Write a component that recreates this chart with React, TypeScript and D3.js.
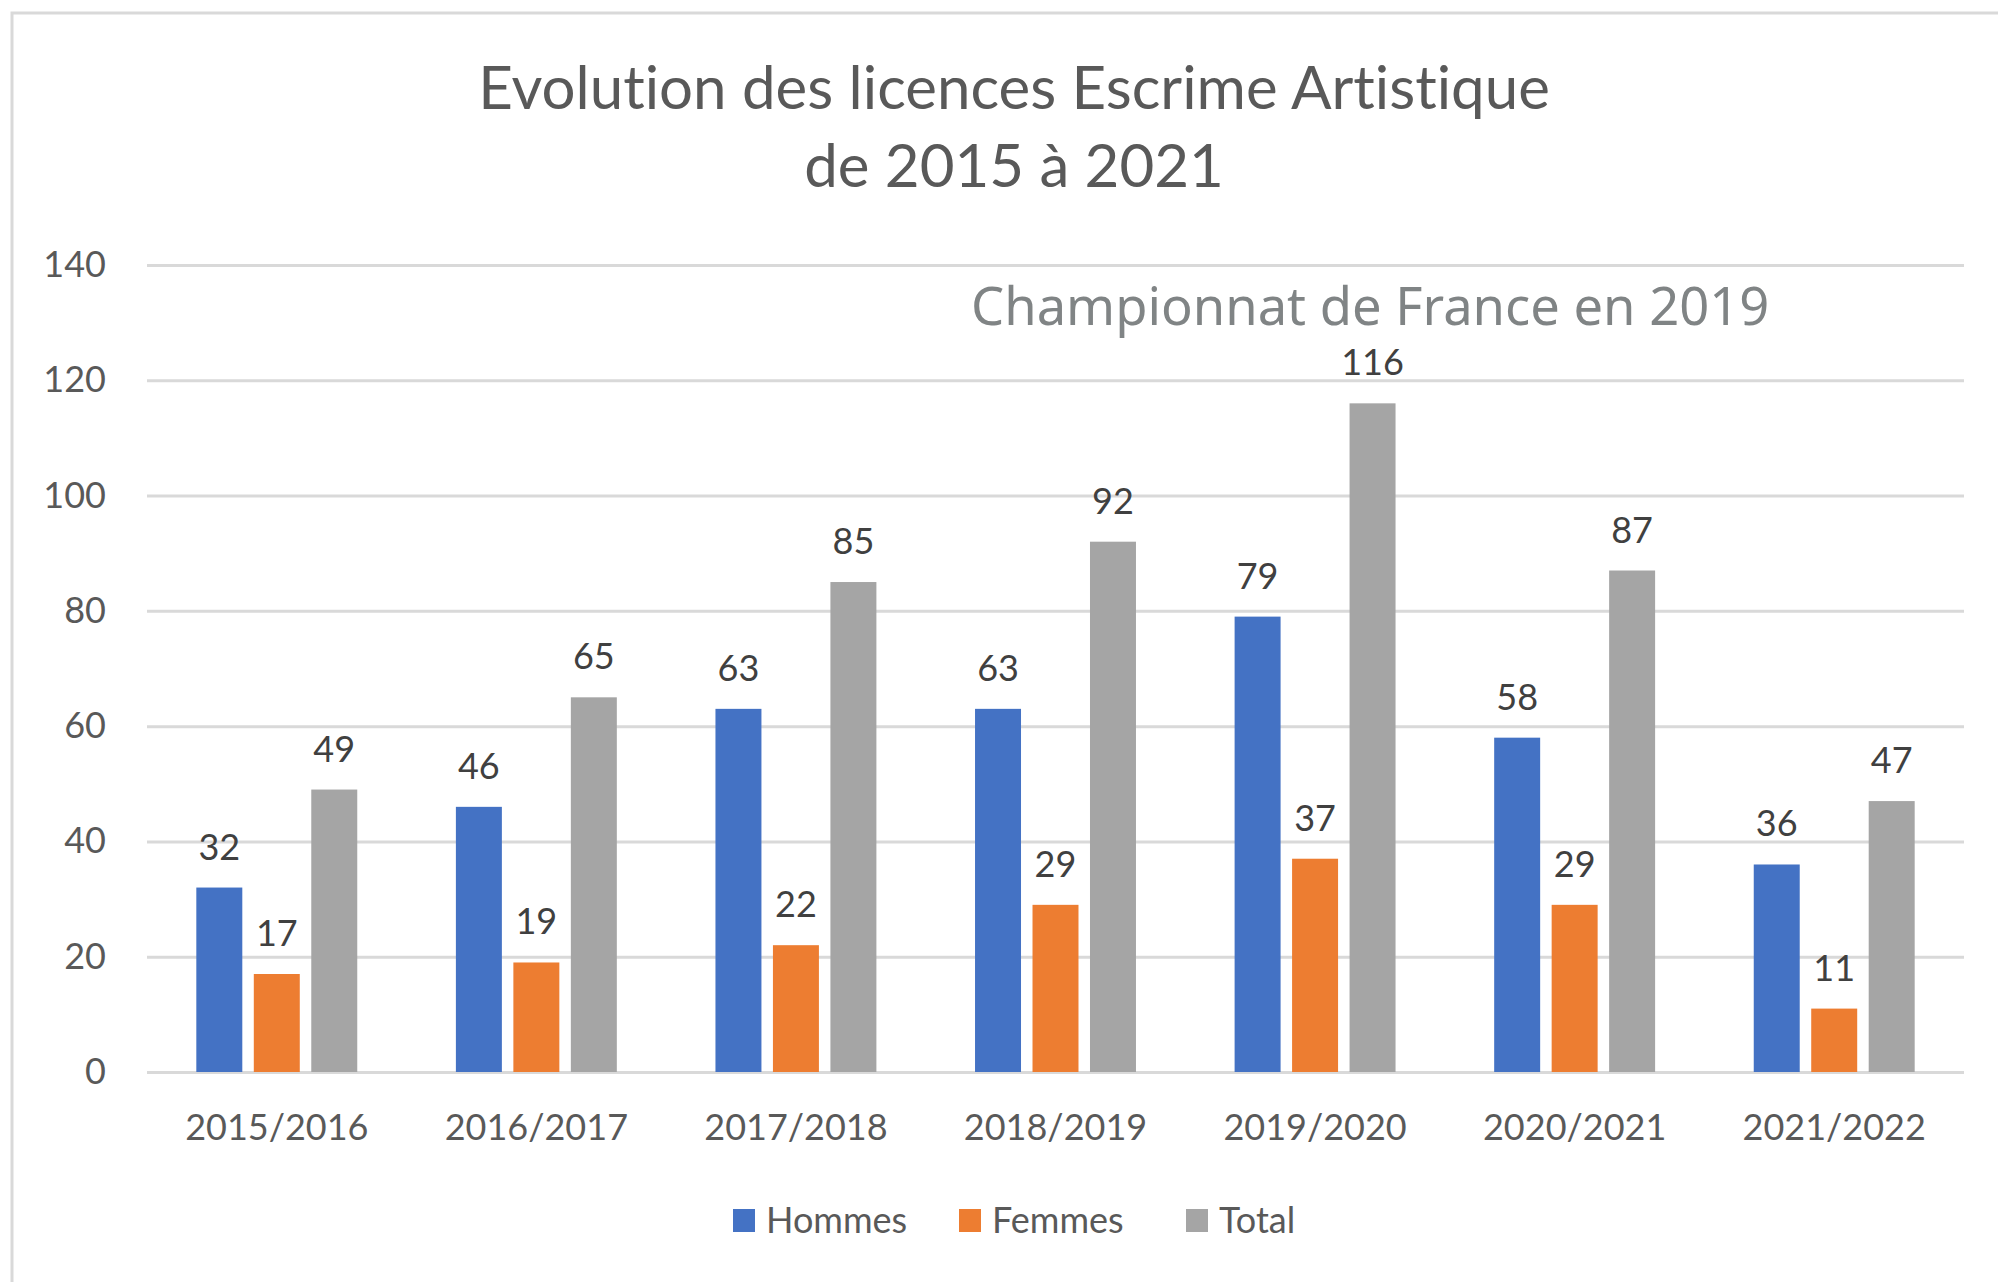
import React, { useEffect, useRef } from 'react'
import { select, scaleBand, scaleLinear, axisLeft, axisBottom } from 'd3'

const CATEGORIES = ['2015/2016', '2016/2017', '2017/2018', '2018/2019', '2019/2020', '2020/2021', '2021/2022']
const SERIES = ['Hommes', 'Femmes', 'Total']
const HOMMES = [32, 46, 63, 63, 79, 58, 36]
const FEMMES = [17, 19, 22, 29, 37, 29, 11]
const TOTAL = [49, 65, 85, 92, 116, 87, 47]
const Y_TICKS = [0, 20, 40, 60, 80, 100, 120, 140]
const COLORS = ['#4472C4', '#ED7D31', '#A5A5A5']
const TITLE = ['Evolution des licences Escrime Artistique', 'de 2015 à 2021']
const NOTE = 'Championnat de France en 2019'

const App = () => {
    const svgRef = useRef<SVGSVGElement>(null)

    const width = 1998
    const height = 1282
    const margin = { top: 265, right: 34, bottom: 210, left: 147 }
    const font = 'Lato, "Open Sans", sans-serif'

    useEffect(() => {
        const svg = select(svgRef.current)
        svg.selectAll('*').remove()

        // frame of the chart area
        svg.append('rect')
            .attr('x', 12).attr('y', 13)
            .attr('width', width).attr('height', height)
            .attr('fill', '#fff')
            .attr('stroke', '#d9d9d9')
            .attr('stroke-width', 3)

        TITLE.forEach((line, i) => {
            svg.append('text')
                .attr('x', 1014)
                .attr('y', 109 + i * 78)
                .attr('text-anchor', 'middle')
                .attr('font-family', font)
                .attr('font-size', 60)
                .attr('fill', '#595959')
                .style('font-variant-ligatures', 'none')
                .text(line)
        })

        const x0 = scaleBand()
            .domain(CATEGORIES)
            .range([margin.left, width - margin.right])
            .paddingInner(0.38)
            .paddingOuter(0.19)

        const x1 = scaleBand()
            .domain(SERIES)
            .range([0, x0.bandwidth()])
            .paddingInner(0.2)
            .paddingOuter(0)

        const y = scaleLinear()
            .domain([0, 140])
            .range([height - margin.bottom, margin.top])

        // gridlines + y labels
        const yAxis = svg.append('g')
            .attr('transform', `translate(${margin.left},0)`)
            .call(axisLeft(y).tickValues(Y_TICKS).tickSize(-(width - margin.right - margin.left)).tickPadding(41))
        yAxis.select('.domain').remove()
        yAxis.selectAll('.tick line').attr('stroke', '#d9d9d9').attr('stroke-width', 3)
        yAxis.selectAll('.tick text')
            .attr('font-family', font)
            .attr('font-size', 36)
            .attr('fill', '#595959')

        const xAxis = svg.append('g')
            .attr('transform', `translate(0,${height - margin.bottom})`)
            .call(axisBottom(x0).tickSize(0).tickPadding(42))
        xAxis.select('.domain').remove()
        xAxis.selectAll('.tick text')
            .attr('font-family', font)
            .attr('font-size', 36)
            .attr('fill', '#595959')

        const seriesValues = [HOMMES, FEMMES, TOTAL]
        const rows = CATEGORIES.map((c, i) => ({
            cat: c,
            vals: SERIES.map((s, j) => ({ key: s, value: seriesValues[j][i], color: COLORS[j] }))
        }))

        const groups = svg.selectAll('.grp')
            .data(rows)
            .enter().append('g')
            .attr('class', 'grp')
            .attr('transform', d => `translate(${x0(d.cat)},0)`)

        groups.selectAll('rect')
            .data(d => d.vals)
            .enter().append('rect')
            .attr('x', d => x1(d.key))
            .attr('y', d => y(d.value))
            .attr('width', x1.bandwidth())
            .attr('height', d => y(0) - y(d.value))
            .attr('fill', d => d.color)

        groups.selectAll('text')
            .data(d => d.vals)
            .enter().append('text')
            .attr('x', d => x1(d.key) + x1.bandwidth() / 2)
            .attr('y', d => y(d.value) - 28)
            .attr('text-anchor', 'middle')
            .attr('font-family', font)
            .attr('font-size', 36)
            .attr('fill', '#404040')
            .text(d => d.value)

        svg.append('text')
            .attr('x', 971)
            .attr('y', 325)
            .attr('font-family', '"Noto Sans", sans-serif')
            .attr('font-size', 52.5)
            .attr('fill', '#808485')
            .text(NOTE)

        // legend
        const legendX = [733, 959, 1186]
        SERIES.forEach((s, i) => {
            svg.append('rect')
                .attr('x', legendX[i]).attr('y', 1209)
                .attr('width', 22).attr('height', 23)
                .attr('fill', COLORS[i])
            svg.append('text')
                .attr('x', legendX[i] + 33)
                .attr('y', 1233)
                .attr('font-family', font)
                .attr('font-size', 36)
                .attr('fill', '#595959')
                .text(s)
        })
    }, [])

    return (
        <svg ref={svgRef} width={width} height={height}
            style={{ position: 'absolute', left: 0, top: 0, display: 'block', background: '#fff' }} />
    )
}

export default App
